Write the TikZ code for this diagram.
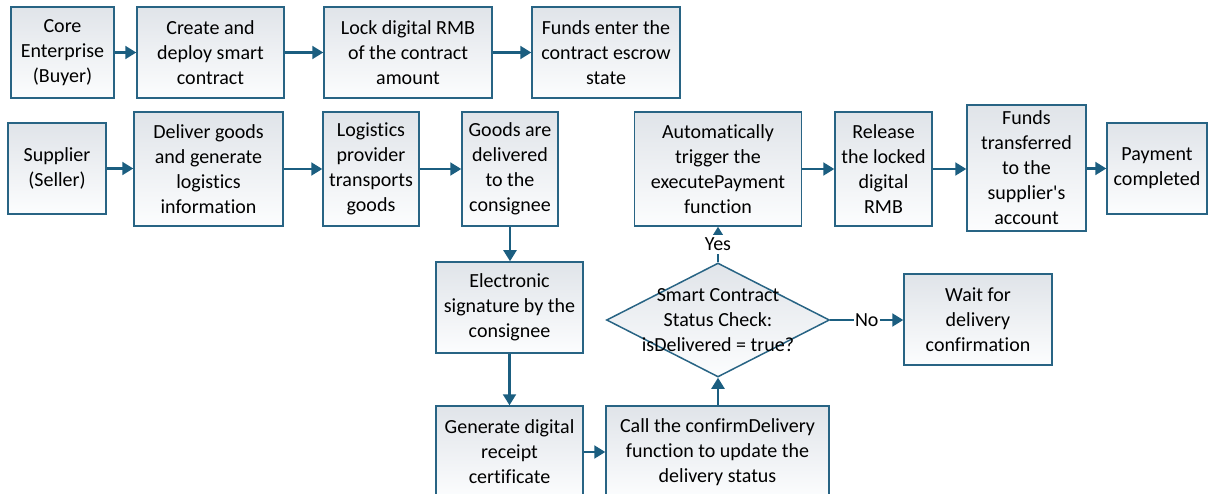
\documentclass[tikz,border=0pt]{standalone}
\usepackage{fontspec}
\setmainfont[Ligatures=NoCommon]{Carlito}
\usetikzlibrary{shapes.geometric,arrows.meta}
\definecolor{edgeblue}{RGB}{40,100,132}
\definecolor{arrowblue}{RGB}{27,94,128}
\definecolor{boxtop}{RGB}{224,228,233}
\definecolor{boxbot}{RGB}{252,253,254}
\tikzset{
  box/.style={draw=edgeblue, line width=1.5pt, top color=boxtop, bottom color=boxbot,
    inner sep=0pt, align=center, font=\fontsize{20}{25}\selectfont},
  decision/.style={diamond, draw=edgeblue, line width=1.5pt, top color=boxtop, bottom color=boxbot,
    inner sep=0pt, aspect=1.96},
  txt/.style={align=center, inner sep=0pt, font=\fontsize{20}{25}\selectfont},
  flow/.style={draw=arrowblue, line width=2.1pt, -{Triangle[length=11pt,width=13pt]}},
  lbl/.style={fill=white, inner ysep=3pt, inner xsep=1.5pt, font=\fontsize{20}{25}\selectfont}
}
\begin{document}
\begin{tikzpicture}[x=1pt,y=-1pt]
\clip (0,0) rectangle (1209,494);
% row 1
\node[box, minimum width=103pt, minimum height=91pt] (core) at (62.5,52.5) {Core\\Enterprise\\(Buyer)};
\node[box, minimum width=147pt, minimum height=91pt] (create) at (210.5,52.5) {Create and\\deploy smart\\contract};
\node[box, minimum width=168pt, minimum height=91pt] (lock) at (408,52.5) {Lock digital RMB\\of the contract\\amount};
\node[box, minimum width=148pt, minimum height=91pt] (escrow) at (606,52.5) {Funds enter the\\contract escrow\\state};
% row 2
\node[box, minimum width=98pt, minimum height=91pt] (supplier) at (57,168.5) {Supplier\\(Seller)};
\node[box, minimum width=149pt, minimum height=114pt] (deliver) at (208.5,169) {Deliver goods\\and generate\\logistics\\information};
\node[box, minimum width=96pt, minimum height=114pt] (logistics) at (371,169) {Logistics\\provider\\transports\\goods};
\node[box, minimum width=96pt, minimum height=114pt] (goods) at (510,169) {Goods are\\delivered\\to the\\consignee};
\node[box, minimum width=167pt, minimum height=114pt] (auto) at (718,169) {Automatically\\trigger the\\executePayment\\function};
\node[box, minimum width=97pt, minimum height=114pt] (release) at (883.5,169) {Release\\the locked\\digital\\RMB};
\node[box, minimum width=119pt, minimum height=126pt] (transferred) at (1026.5,168) {Funds\\transferred\\to the\\supplier\textquotesingle s\\account};
\node[box, minimum width=100pt, minimum height=91pt] (payment) at (1157,168.5) {Payment\\completed};
% row 3
\node[box, minimum width=147pt, minimum height=91pt] (electronic) at (509.5,307.5) {Electronic\\signature by the\\consignee};
\node[decision, minimum width=223pt, minimum height=114pt] (dia) at (718,320) {};
\node[txt] (diatext) at (dia.center) {Smart Contract\\Status Check:\\isDelivered = true?};
\node[box, minimum width=148pt, minimum height=91pt] (wait) at (978,319.5) {Wait for\\delivery\\confirmation};
% row 4
\node[box, minimum width=147pt, minimum height=92pt] (generate) at (509.5,452) {Generate digital\\receipt\\certificate};
\node[box, minimum width=223pt, minimum height=92pt] (call) at (717.5,452) {Call the confirmDelivery\\function to update the\\delivery status};
% connectors
\draw[flow] (core.east) -- (create.west |- core.east);
\draw[flow] (create.east) -- (lock.west |- create.east);
\draw[flow] (lock.east) -- (escrow.west |- lock.east);
\draw[flow] (supplier.east) -- (deliver.west |- supplier.east);
\draw[flow] (deliver.east) -- (logistics.west |- deliver.east);
\draw[flow] (logistics.east) -- (goods.west |- logistics.east);
\draw[flow] (goods.south) -- (electronic.north -| goods.south);
\draw[flow] (electronic.south) -- (generate.north -| electronic.south);
\draw[flow] (generate.east |- call.west) -- (call.west);
\draw[flow] (call.north -| dia.south) -- (dia.south);
\draw[flow] (dia.east) -- node[lbl] (nolbl) {No} (wait.west |- dia.east);
\draw[flow] (dia.north) -- node[lbl] (yeslbl) {Yes} (auto.south -| dia.north);
\draw[flow] (auto.east) -- (release.west |- auto.east);
\draw[flow] (release.east) -- (transferred.west |- release.east);
\draw[flow] (transferred.east |- payment.west) -- (payment.west);
\end{tikzpicture}
\end{document}
